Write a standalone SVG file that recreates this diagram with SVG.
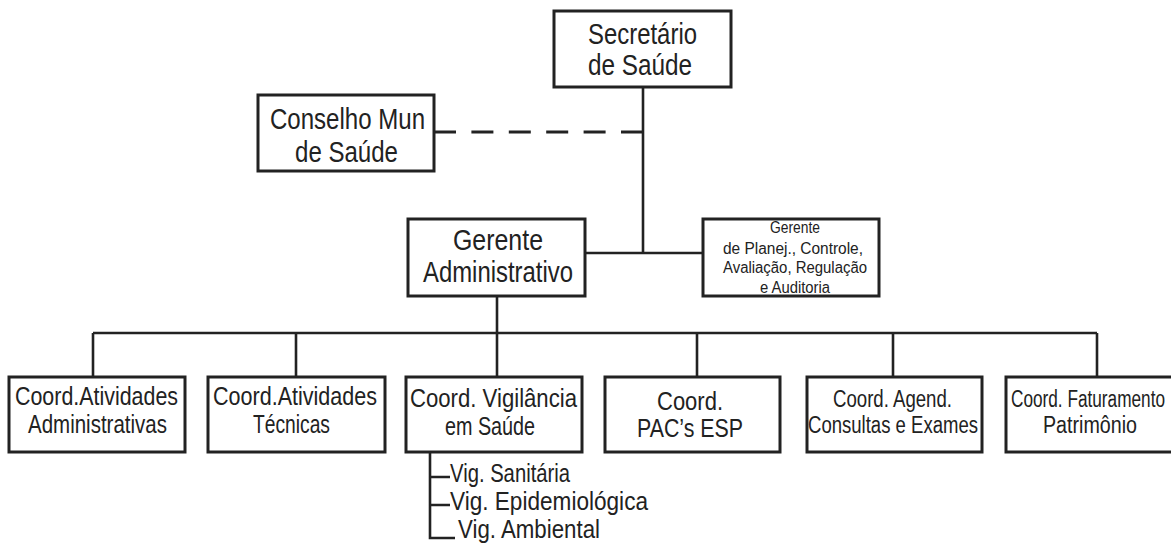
<svg xmlns="http://www.w3.org/2000/svg" width="1171" height="551" viewBox="0 0 1171 551">
<style>
.box{fill:#fff;stroke:#222;stroke-width:3}
.ln{fill:none;stroke:#222;stroke-width:2.6}
.dash{fill:none;stroke:#222;stroke-width:3;stroke-dasharray:22 15.4}
text{font-family:"Liberation Sans",Arial,sans-serif;fill:#222}
.big{font-size:29px}
.mid{font-size:26px}
.pac{font-size:25px}
.sm{font-size:23px}
.xs{font-size:16px}
.sub{font-size:25px}
</style>
<rect width="1171" height="551" fill="#fff"/>
<g id="connectors">
<line class="ln" x1="643" y1="87" x2="643" y2="253"/>
<path class="dash" d="M434 132 H643"/>
<line class="ln" x1="585" y1="253" x2="703" y2="253"/>
<line class="ln" x1="497" y1="296" x2="497" y2="333"/>
<line class="ln" x1="93" y1="333" x2="1097" y2="333"/>
<line class="ln" x1="93" y1="333" x2="93" y2="377"/>
<line class="ln" x1="296" y1="333" x2="296" y2="377"/>
<line class="ln" x1="497" y1="333" x2="497" y2="377"/>
<line class="ln" x1="697" y1="333" x2="697" y2="377"/>
<line class="ln" x1="893" y1="333" x2="893" y2="377"/>
<line class="ln" x1="1097" y1="333" x2="1097" y2="377"/>
<path class="ln" d="M430 452 V538 H455 M430 477 H450 M430 505 H450"/>
</g>
<g id="secretario">
<rect class="box" x="554" y="11" width="177" height="76"/>
<text class="big" x="588" y="44" textLength="109" lengthAdjust="spacingAndGlyphs">Secretário</text>
<text class="big" x="588" y="75" textLength="104" lengthAdjust="spacingAndGlyphs">de Saúde</text>
</g>
<g id="conselho">
<rect class="box" x="258" y="95" width="176" height="76"/>
<text class="big" x="270" y="129" textLength="155" lengthAdjust="spacingAndGlyphs">Conselho Mun</text>
<text class="big" x="295" y="162" textLength="103" lengthAdjust="spacingAndGlyphs">de Saúde</text>
</g>
<g id="gerente-adm">
<rect class="box" x="408" y="219" width="177" height="77"/>
<text class="big" x="453" y="250" textLength="90" lengthAdjust="spacingAndGlyphs">Gerente</text>
<text class="big" x="423" y="282" textLength="150" lengthAdjust="spacingAndGlyphs">Administrativo</text>
</g>
<g id="gerente-planej">
<rect class="box" x="703" y="219" width="176" height="77"/>
<text class="xs" x="770" y="233" textLength="50" lengthAdjust="spacingAndGlyphs">Gerente</text>
<text class="xs" x="723" y="254" textLength="140" lengthAdjust="spacingAndGlyphs">de Planej., Controle,</text>
<text class="xs" x="723" y="273" textLength="144" lengthAdjust="spacingAndGlyphs">Avaliação, Regulação</text>
<text class="xs" x="760" y="293" textLength="70" lengthAdjust="spacingAndGlyphs">e Auditoria</text>
</g>
<g id="coord-adm">
<rect class="box" x="9" y="377" width="176" height="75"/>
<text class="mid" x="15" y="405" textLength="163" lengthAdjust="spacingAndGlyphs">Coord.Atividades</text>
<text class="mid" x="28" y="433" textLength="139" lengthAdjust="spacingAndGlyphs">Administrativas</text>
</g>
<g id="coord-tec">
<rect class="box" x="208" y="377" width="177" height="75"/>
<text class="mid" x="213" y="405" textLength="164" lengthAdjust="spacingAndGlyphs">Coord.Atividades</text>
<text class="mid" x="253" y="433" textLength="77" lengthAdjust="spacingAndGlyphs">Técnicas</text>
</g>
<g id="coord-vig">
<rect class="box" x="406" y="377" width="176" height="75"/>
<text class="mid" x="410" y="407" textLength="167" lengthAdjust="spacingAndGlyphs">Coord. Vigilância</text>
<text class="mid" x="445" y="435" textLength="90" lengthAdjust="spacingAndGlyphs">em Saúde</text>
</g>
<g id="coord-pac">
<rect class="box" x="605" y="377" width="175" height="75"/>
<text class="pac" x="657" y="410" textLength="66" lengthAdjust="spacingAndGlyphs">Coord.</text>
<text class="pac" x="637" y="437" textLength="106" lengthAdjust="spacingAndGlyphs">PAC’s ESP</text>
</g>
<g id="coord-agend">
<rect class="box" x="807" y="377" width="175" height="75"/>
<text class="sm" x="833" y="407" textLength="119" lengthAdjust="spacingAndGlyphs">Coord. Agend.</text>
<text class="sm" x="808" y="433" textLength="170" lengthAdjust="spacingAndGlyphs">Consultas e Exames</text>
</g>
<g id="coord-fat">
<rect class="box" x="1006" y="377" width="172" height="75"/>
<text class="sm" x="1011" y="407" textLength="154" lengthAdjust="spacingAndGlyphs">Coord. Faturamento</text>
<text class="sm" x="1043" y="433" textLength="94" lengthAdjust="spacingAndGlyphs">Patrimônio</text>
</g>
<g id="vig-subitems">
<text class="sub" x="450" y="482" textLength="120" lengthAdjust="spacingAndGlyphs">Vig. Sanitária</text>
<text class="sub" x="450" y="510" textLength="198" lengthAdjust="spacingAndGlyphs">Vig. Epidemiológica</text>
<text class="sub" x="458" y="538" textLength="142" lengthAdjust="spacingAndGlyphs">Vig. Ambiental</text>
</g>
</svg>
